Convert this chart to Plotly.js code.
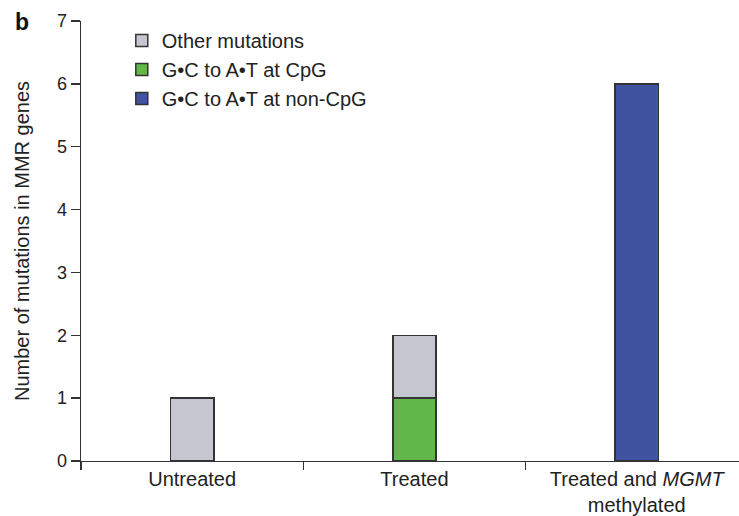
<!DOCTYPE html>
<html>
<head>
<meta charset="utf-8">
<script src="https://cdn.plot.ly/plotly-3.0.1.min.js"></script>
<style>html,body{margin:0;padding:0;background:#fff;}#chart{width:739px;height:516px;}</style>
</head>
<body>
<div id="chart"></div>
<script>
const categories = ["Untreated", "Treated", "Treated and <i>MGMT</i><br>methylated"];
const otherMutations = [1, 1, null];
const gcCpG = [null, 1, null];
const gcNonCpG = [null, null, 6];
const yTicks = [0, 1, 2, 3, 4, 5, 6, 7];

const lineStyle = {color: "#333333", width: 1.5};
const font = "Liberation Sans, Arial, Helvetica, sans-serif";

const traces = [
  {type: "bar", name: "G\u2022C to A\u2022T at CpG", x: categories, y: gcCpG,
   marker: {color: "#62b74a", line: lineStyle}, width: 0.195, legendrank: 2},
  {type: "bar", name: "G\u2022C to A\u2022T at non-CpG", x: categories, y: gcNonCpG,
   marker: {color: "#4053a0", line: lineStyle}, width: 0.195, legendrank: 3},
  {type: "bar", name: "Other mutations", x: categories, y: otherMutations,
   marker: {color: "#c5c6d0", line: lineStyle}, width: 0.195, legendrank: 1}
];

const layout = {
  width: 739, height: 516,
  margin: {l: 81, r: 0, t: 21, b: 55},
  paper_bgcolor: "#fff", plot_bgcolor: "#fff",
  font: {family: font, size: 20, color: "#222"},
  barmode: "stack",
  showlegend: true,
  legend: {x: 0.062, y: 1.0, xanchor: "left", yanchor: "top", traceorder: "normal",
           font: {size: 20, color: "#222"}, bgcolor: "rgba(0,0,0,0)"},
  xaxis: {type: "category", range: [-0.5, 2.46], showline: true, linecolor: "#333", linewidth: 1.3,
          ticks: "outside", tickson: "boundaries", ticklen: 8, tickcolor: "#333", tickwidth: 1.3,
          showgrid: false, zeroline: false, fixedrange: true, tickfont: {size: 20, color: "#222"}},
  yaxis: {range: [0, 7], tickvals: yTicks, showline: true, linecolor: "#333", linewidth: 1.3,
          ticks: "outside", ticklen: 9, tickcolor: "#333", tickwidth: 1.3,
          showgrid: false, zeroline: false, tickfont: {size: 18, color: "#222"},
          title: {text: "Number of mutations in MMR genes", font: {size: 20, color: "#222"}, standoff: 22}},
  annotations: [{text: "<b>b</b>", xref: "paper", yref: "paper", x: -0.0904, y: 0.998,
                 xanchor: "center", yanchor: "middle", showarrow: false, font: {size: 23, color: "#111"}}]
};

Plotly.newPlot("chart", traces, layout, {displayModeBar: false, staticPlot: true});
</script>
</body>
</html>
